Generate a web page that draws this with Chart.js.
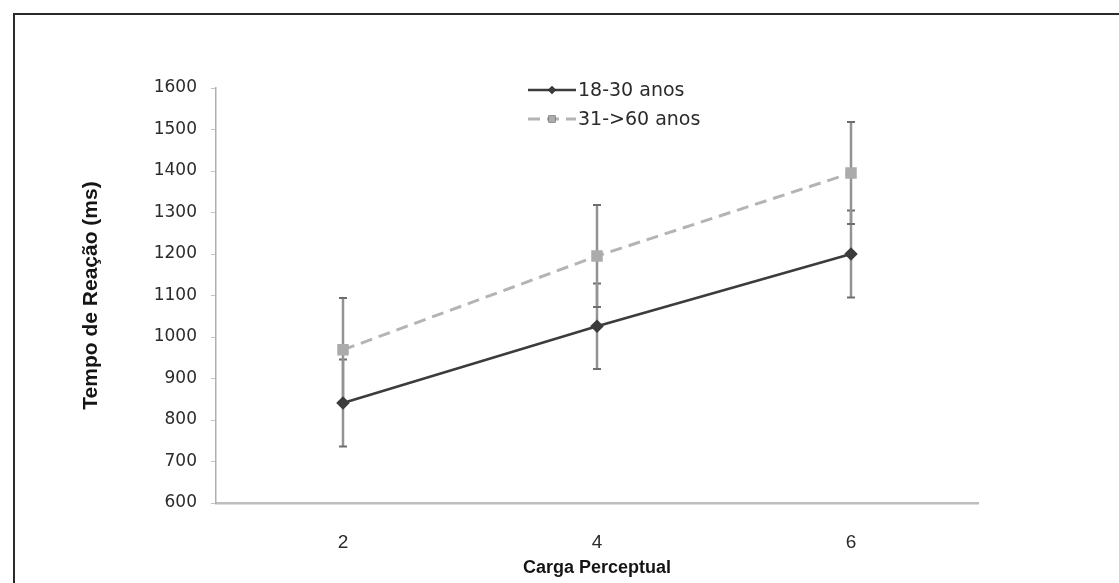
<!DOCTYPE html>
<html>
<head>
<meta charset="utf-8">
<script src="https://cdn.jsdelivr.net/npm/chart.js@4/dist/chart.umd.min.js"></script>
<style>
    body{ margin:0; background:#fff; overflow:hidden; }
    #wrap{ position:relative; width:1119px; height:583px; }
    #frame{ position:absolute; left:13px; top:13px; width:1200px; height:700px; border:2px solid #2a2a2a; }
    #chartBox{ position:absolute; left:0; top:0; width:1119px; height:583px; }
</style>
</head>
<body>
<div id="wrap">
    <div id="frame"></div>
    <div id="chartBox"><canvas id="rtChart"></canvas></div>
</div>
<script>
const cargaLabels = ["2", "4", "6"];
const seriesNames = ["18-30 anos", "31->60 anos"];
const jovensMedia = [841, 1026, 1200];
const jovensErro = [105, 103, 105];
const idososMedia = [969, 1195, 1395];
const idososErro = [125, 123, 123];
const yTicks = [600, 700, 800, 900, 1000, 1100, 1200, 1300, 1400, 1500, 1600];

// error bars, drawn through the chart scales
const errorBarPlugin = {
    id: "errorBars",
    beforeDatasetsDraw(chart){
        const ctx = chart.ctx;
        const ys = chart.scales.y;
        chart.data.datasets.forEach((ds, i) =>{
            const meta = chart.getDatasetMeta(i);
            ds.data.forEach((v, j) =>{
                const x = meta.data[j].x;
                const top = ys.getPixelForValue(v + ds.errorBars[j]);
                const bot = ys.getPixelForValue(v - ds.errorBars[j]);
                ctx.save();
                ctx.strokeStyle = ds.errorColor;
                ctx.lineWidth = 2.5;
                ctx.beginPath();
                ctx.moveTo(x, top);
                ctx.lineTo(x, bot);
                ctx.stroke();
                ctx.lineWidth = 2;
                ctx.strokeStyle = "#6e6e6e";
                ctx.beginPath();
                ctx.moveTo(x - 4, top);
                ctx.lineTo(x + 4, top);
                ctx.moveTo(x - 4, bot);
                ctx.lineTo(x + 4, bot);
                ctx.stroke();
                ctx.restore();
            });
        });
    }
};

// stacked legend inside the plot, like the original
const legendPlugin = {
    id: "stackLegend",
    afterDraw(chart){
        const ctx = chart.ctx;
        const rowsY = [90, 119];
        chart.data.datasets.forEach((ds, i) =>{
            const y = rowsY[i];
            ctx.save();
            ctx.strokeStyle = ds.borderColor;
            ctx.lineWidth = ds.borderWidth;
            ctx.setLineDash(ds.borderDash || []);
            ctx.beginPath();
            ctx.moveTo(528, y);
            ctx.lineTo(576, y);
            ctx.stroke();
            ctx.setLineDash([]);
            Chart.helpers.drawPoint(ctx, {pointStyle: ds.pointStyle, radius: ds.pointRadius - 1, rotation: 0}, 552, y);
            ctx.fillStyle = ds.pointBackgroundColor;
            ctx.fill();
            ctx.fillStyle = "#2b2b2b";
            ctx.font = "19px 'DejaVu Sans'";
            ctx.textBaseline = "middle";
            ctx.fillText(ds.label, 578, y + 1);
            ctx.restore();
        });
    }
};

function lineChartBuilder(){
    new Chart("rtChart", {
        type: "line",
        data: {
            labels: cargaLabels,
            datasets: [
                {
                    label: seriesNames[0],
                    data: jovensMedia,
                    errorBars: jovensErro,
                    errorColor: "#939393",
                    borderColor: "#3c3c3c",
                    borderWidth: 2.5,
                    pointStyle: "rectRot",
                    pointRadius: 5,
                    pointBackgroundColor: "#3c3c3c",
                    pointBorderColor: "#3c3c3c",
                    tension: 0
                },
                {
                    label: seriesNames[1],
                    data: idososMedia,
                    errorBars: idososErro,
                    errorColor: "#939393",
                    borderColor: "#b4b4b4",
                    borderWidth: 3,
                    borderDash: [12, 7],
                    pointStyle: "rect",
                    pointRadius: 6,
                    pointBackgroundColor: "#ababab",
                    pointBorderColor: "#ababab",
                    tension: 0
                }
            ]
        },
        options: {
            responsive: false,
            animation: false,
            layout: {
                padding: {left: 58, right: 141, top: 88, bottom: 0}
            },
            plugins: {
                legend: { display: false },
                tooltip: { enabled: false }
            },
            scales: {
                x: {
                    offset: true,
                    afterFit: (scale) =>{ scale.height = 80; },
                    grid: { display: true, drawOnChartArea: false, drawTicks: false },
                    border: { color: "#bdbdbd", width: 2.5 },
                    ticks: {
                        color: "#2b2b2b",
                        padding: 28,
                        font: { family: "'Liberation Sans', Arial", size: 19 }
                    },
                    title: {
                        display: true,
                        text: "Carga Perceptual",
                        color: "#151515",
                        padding: { top: 0, bottom: 4 },
                        font: { family: "'Liberation Sans', Arial", size: 18, weight: "bold" }
                    }
                },
                y: {
                    min: 600,
                    max: 1600,
                    afterFit: (scale) =>{ scale.width = 158; },
                    afterBuildTicks: (scale) =>{ scale.ticks = yTicks.map(v => ({value: v})); },
                    grid: { drawOnChartArea: false, drawTicks: true, tickLength: 5, color: "#c4c4c4" },
                    border: { color: "#b0b0b0", width: 1.5 },
                    ticks: {
                        color: "#2b2b2b",
                        padding: 14,
                        font: { family: "'DejaVu Sans'", size: 17 },
                        callback: (value) => String(value)
                    },
                    title: {
                        display: true,
                        text: "Tempo de Reação (ms)",
                        color: "#151515",
                        padding: { top: 21, bottom: 0 },
                        font: { family: "'Liberation Sans', Arial", size: 21, weight: "bold" }
                    }
                }
            }
        },
        plugins: [errorBarPlugin, legendPlugin]
    });
}

const cv = document.getElementById("rtChart");
cv.width = 1119;
cv.height = 583;
lineChartBuilder();
</script>
</body>
</html>
